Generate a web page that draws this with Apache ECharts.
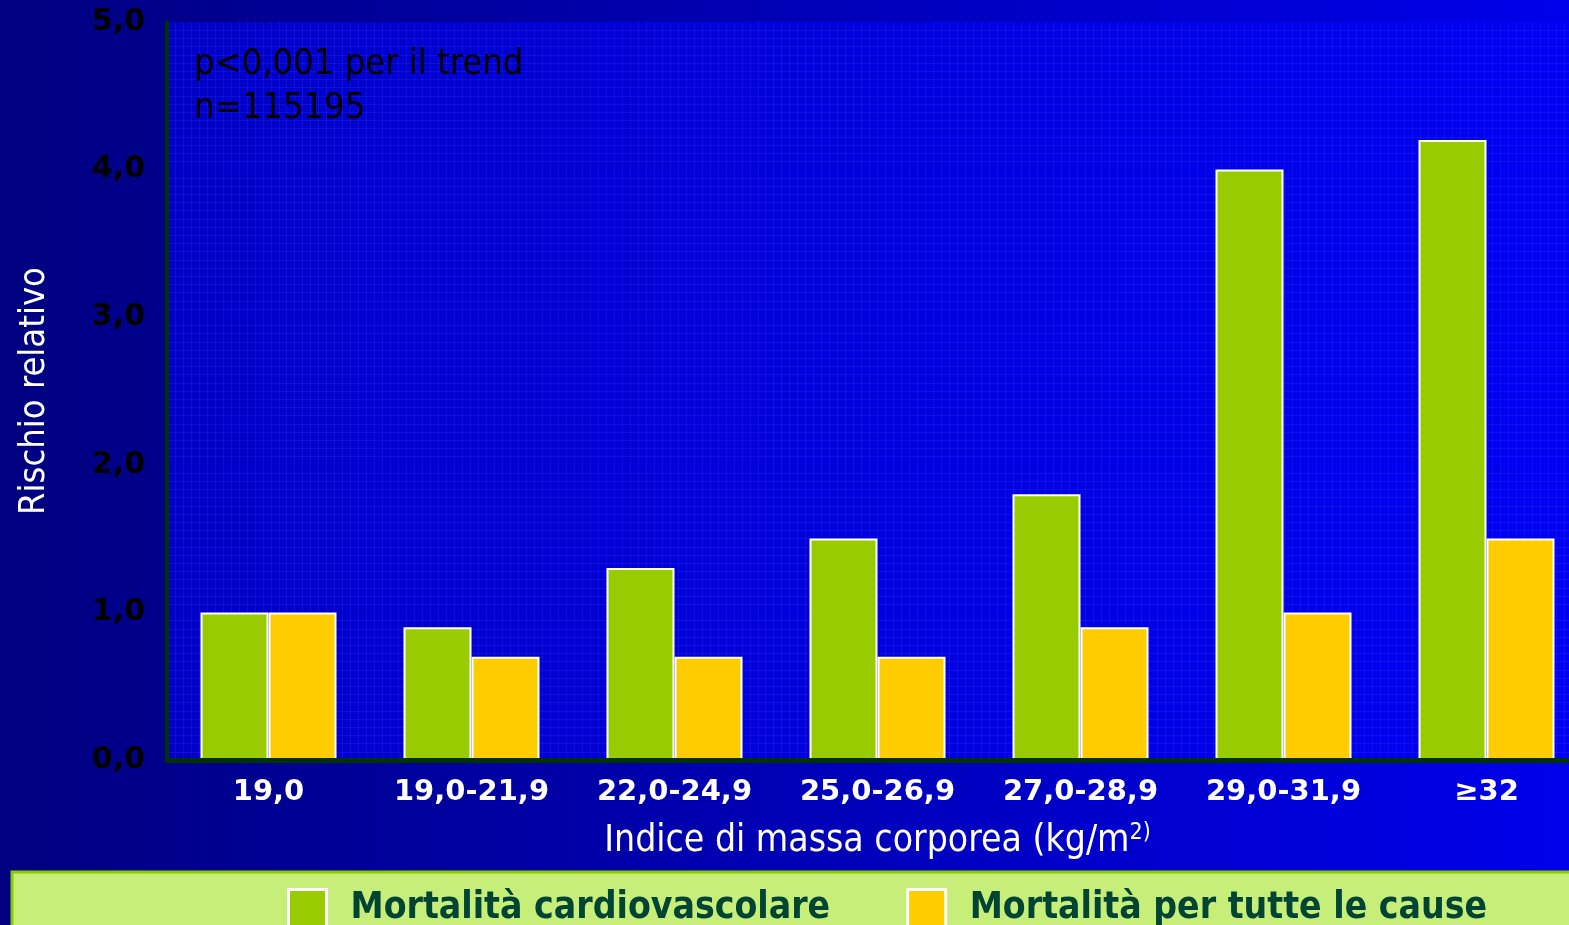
<!DOCTYPE html>
<html>
<head>
<meta charset="utf-8">
<script src="https://cdn.jsdelivr.net/npm/echarts@6/dist/echarts.min.js"></script>
<style>
html,body{margin:0;padding:0;background:#000080;overflow:hidden;}
#chart{width:1590px;height:925px;}
</style>
</head>
<body>
<div id="chart"></div>
<script>
const categories = ['19,0', '19,0-21,9', '22,0-24,9', '25,0-26,9', '27,0-28,9', '29,0-31,9', '≥32'];
const cardioValues = [1.0, 0.9, 1.3, 1.5, 1.8, 4.0, 4.2];
const allCauseValues = [1.0, 0.7, 0.7, 0.7, 0.9, 1.0, 1.5];
const seriesNames = ['Mortalità cardiovascolare', 'Mortalità per tutte le cause'];
const yTickLabels = ['0,0', '1,0', '2,0', '3,0', '4,0', '5,0'];
const annotationLines = ['p<0,001 per il trend', 'n=115195'];

const chart = echarts.init(document.getElementById('chart'));
const barStyleBase = { borderColor: '#ffffff', borderWidth: 2 };
const condensed = '"DejaVu Sans Condensed", "DejaVu Sans"';
const texture = 'rgba(90,90,255,0.16)';

chart.setOption({
  backgroundColor: {
    type: 'linear', x: 0, y: 0, x2: 1, y2: 0,
    colorStops: [{ offset: 0, color: '#000080' }, { offset: 1, color: '#0000ec' }]
  },
  animation: false,
  grid: {
    left: 167, top: 22, width: 1421, height: 738,
    show: true, borderWidth: 0,
    backgroundColor: {
      type: 'linear', x: 0, y: 0, x2: 1, y2: 0,
      colorStops: [{ offset: 0, color: '#0000c8' }, { offset: 1, color: '#0000f4' }]
    }
  },
  xAxis: [{
    type: 'category',
    data: categories,
    z: 5,
    axisLine: { lineStyle: { color: '#003300', width: 5 } },
    axisTick: { show: false },
    axisLabel: {
      interval: 0,
      color: '#ffffff', fontFamily: 'DejaVu Sans', fontWeight: 'bold', fontSize: 29, margin: 18
    },
    name: '{a|Indice di massa corporea (kg/m}{b|2)}',
    nameLocation: 'middle',
    nameGap: 62,
    nameTextStyle: {
      rich: {
        a: { color: '#ffffff', fontFamily: condensed, fontSize: 37 },
        b: { color: '#ffffff', fontFamily: condensed, fontSize: 23, verticalAlign: 'top', padding: [0, 0, 16, 0] }
      }
    }
  }, {
    type: 'value', position: 'top', min: 0, max: 178, interval: 1,
    axisLine: { show: false }, axisTick: { show: false }, axisLabel: { show: false },
    splitLine: { show: true, lineStyle: { color: texture, width: 1 } }
  }],
  yAxis: {
    type: 'value',
    min: 0, max: 5, interval: 1,
    axisLine: { show: true, lineStyle: { color: '#003300', width: 4 } },
    axisTick: { show: false },
    splitLine: { show: false },
    minorTick: { show: false, splitNumber: 18 },
    minorSplitLine: { show: true, lineStyle: { color: texture, width: 1 } },
    axisLabel: {
      color: '#000000', fontFamily: 'DejaVu Sans', fontWeight: 'bold', fontSize: 30, margin: 22,
      formatter: (v) => yTickLabels[Math.round(v)]
    },
    name: 'Rischio relativo',
    nameLocation: 'middle',
    nameGap: 114,
    nameTextStyle: { color: '#ffffff', fontFamily: condensed, fontSize: 36 }
  },
  legend: {
    data: seriesNames,
    icon: 'rect',
    left: 282, top: 883,
    itemWidth: 38, itemHeight: 38,
    itemGap: 76,
    itemStyle: { borderColor: '#ffffff', borderWidth: 3 },
    textStyle: { color: '#004433', fontFamily: condensed, fontWeight: 'bold', fontSize: 37, padding: [0, 0, 0, 19] }
  },
  graphic: [
    {
      type: 'rect', z: 0,
      shape: { x: 12, y: 872, width: 1600, height: 60 },
      style: { fill: '#c8ee7a', stroke: '#88cc00', lineWidth: 3 }
    },
    {
      type: 'text', left: 194, top: 47, z: 10,
      style: { text: annotationLines[0], fill: '#000000', font: '36px ' + condensed }
    },
    {
      type: 'text', left: 194, top: 91, z: 10,
      style: { text: annotationLines[1], fill: '#000000', font: '36px ' + condensed }
    }
  ],
  series: [
    {
      name: seriesNames[0], type: 'bar', data: cardioValues,
      barWidth: 68, barGap: '0%',
      itemStyle: Object.assign({ color: '#99cc00' }, barStyleBase)
    },
    {
      name: seriesNames[1], type: 'bar', data: allCauseValues,
      barWidth: 68, barGap: '0%',
      itemStyle: Object.assign({ color: '#ffcc00' }, barStyleBase)
    }
  ]
});
</script>
</body>
</html>
